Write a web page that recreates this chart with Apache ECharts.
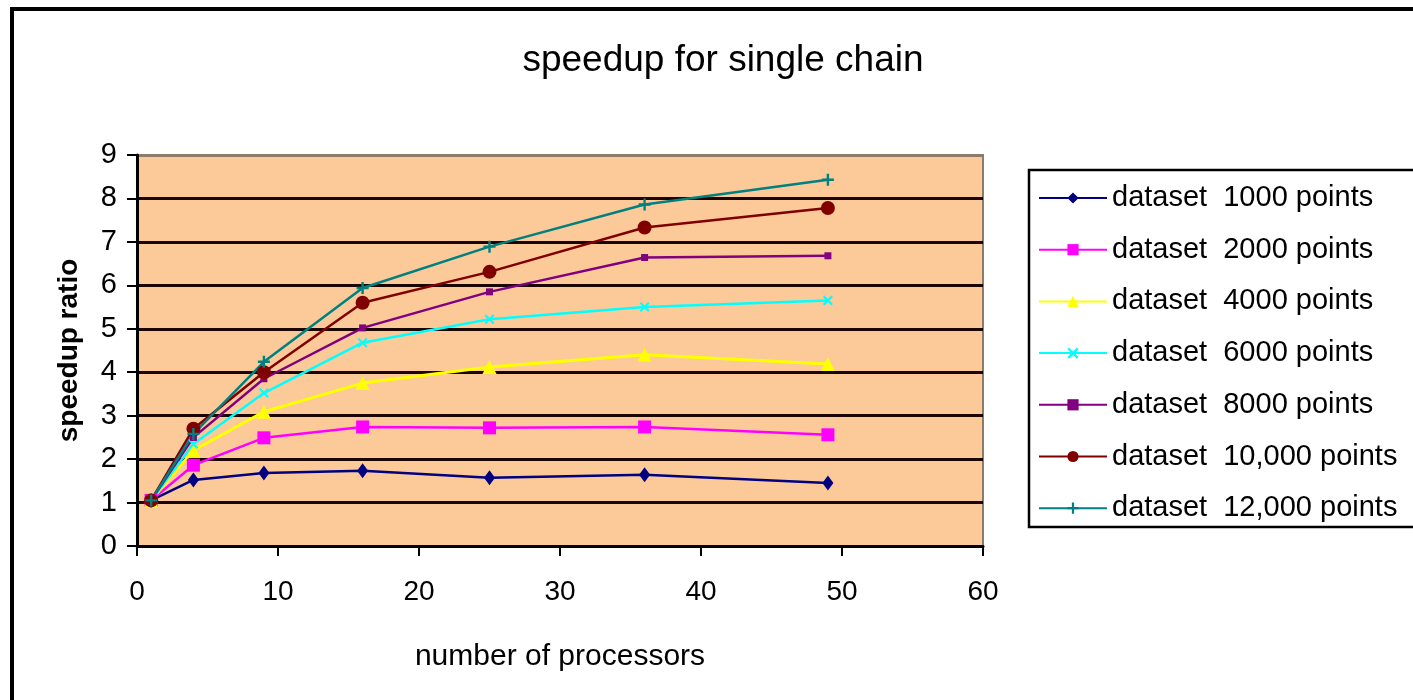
<!DOCTYPE html>
<html>
<head>
<meta charset="utf-8">
<script src="https://cdn.jsdelivr.net/npm/echarts@6/dist/echarts.min.js"></script>
<style>html,body{margin:0;padding:0;background:#fff;}#c{width:1413px;height:700px;}</style>
</head>
<body>
<div id="c"></div>
<script>
// ---- data ----
const processors = [1, 4, 9, 16, 25, 36, 49];
const seriesNames = [
  'dataset  1000 points',
  'dataset  2000 points',
  'dataset  4000 points',
  'dataset  6000 points',
  'dataset  8000 points',
  'dataset  10,000 points',
  'dataset  12,000 points'
];
const s1000  = [1.05, 1.52, 1.68, 1.73, 1.57, 1.64, 1.45];
const s2000  = [1.05, 1.86, 2.49, 2.74, 2.72, 2.74, 2.56];
const s4000  = [1.05, 2.20, 3.09, 3.75, 4.12, 4.40, 4.19];
const s6000  = [1.05, 2.35, 3.52, 4.68, 5.22, 5.50, 5.65];
const s8000  = [1.05, 2.50, 3.85, 5.02, 5.85, 6.64, 6.68];
const s10000 = [1.05, 2.70, 4.00, 5.60, 6.31, 7.33, 7.78];
const s12000 = [1.05, 2.58, 4.24, 5.94, 6.89, 7.86, 8.43];
const xTicks = [0, 10, 20, 30, 40, 50, 60];
const yTicks = [0, 1, 2, 3, 4, 5, 6, 7, 8, 9];

// ---- styles ----
const allValues = [s1000, s2000, s4000, s6000, s8000, s10000, s12000];
const colors = ['#000080', '#FF00FF', '#FFFF00', '#00FFFF', '#800080', '#800000', '#008080'];
const symbols = [
  'diamond',
  'rect',
  'triangle',
  'path://M0,1.5L1.5,0L10,8.5L8.5,10ZM8.5,0L10,1.5L1.5,10L0,8.5Z',
  'rect',
  'circle',
  'path://M4,0H6V10H4ZM0,4H10V6H0Z'
];
const symbolSizes = [[11, 15], 13, 14, 10, 7, 14, 12];

const font = 'Liberation Sans, Arial, sans-serif';

const series = allValues.map((vals, i) => ({
  name: seriesNames[i],
  type: 'line',
  data: processors.map((x, j) => [x, vals[j]]),
  symbol: symbols[i],
  symbolSize: symbolSizes[i],
  showAllSymbol: true,
  lineStyle: { color: colors[i], width: i === 2 ? 3 : 2.5 },
  itemStyle: { color: colors[i], borderColor: colors[i], borderWidth: 0 },
  emphasis: { disabled: true },
  animation: false,
  z: 3
}));

const splitColors = yTicks.map((t, i) => i === yTicks.length - 1 ? '#8c7c6c' : '#1a0500');

const chart = echarts.init(document.getElementById('c'));
chart.setOption({
  backgroundColor: '#ffffff',
  animation: false,
  title: {
    text: 'speedup for single chain',
    left: 718,
    top: 37,
    textAlign: 'center',
    textStyle: { fontFamily: font, fontSize: 37, fontWeight: 'normal', color: '#000' }
  },
  grid: {
    left: 137, right: 430, top: 155, bottom: 154,
    show: true,
    backgroundColor: '#FCCA98',
    borderColor: '#8c7c6c',
    borderWidth: 2
  },
  legend: {
    orient: 'vertical',
    left: 1038,
    top: 183,
    padding: 0,
    itemWidth: 68,
    itemHeight: 14,
    itemGap: 21.7,
    data: seriesNames,
    textStyle: { fontFamily: font, fontSize: 29, color: '#000', lineHeight: 30 }
  },
  xAxis: {
    type: 'value',
    min: 0, max: 60, interval: 10,
    name: 'number of processors',
    nameLocation: 'middle',
    nameGap: 96,
    nameTextStyle: { fontFamily: font, fontSize: 30, color: '#000' },
    axisLine: { show: true, onZero: false, lineStyle: { color: '#000', width: 3 } },
    axisTick: { show: true, inside: false, length: 10, lineStyle: { color: '#000', width: 2 } },
    axisLabel: { margin: 32, fontFamily: font, fontSize: 28, color: '#000',
      formatter: v => xTicks.includes(v) ? String(v) : '' },
    splitLine: { show: false }
  },
  yAxis: {
    type: 'value',
    min: 0, max: 9, interval: 1,
    name: 'speedup ratio',
    nameLocation: 'middle',
    nameGap: 54,
    nameRotate: 90,
    nameTextStyle: { fontFamily: font, fontSize: 28, fontWeight: 'bold', color: '#000' },
    axisLine: { show: true, onZero: false, lineStyle: { color: '#000', width: 3 } },
    axisTick: { show: true, inside: false, length: 10, lineStyle: { color: '#000', width: 2 } },
    axisLabel: { margin: 20, fontFamily: font, fontSize: 29, color: '#000',
      formatter: v => yTicks.includes(v) ? String(v) : '' },
    splitLine: { show: true, lineStyle: { color: splitColors, width: 3 } }
  },
  graphic: [
    {
      type: 'rect',
      shape: { x: 12, y: 9, width: 1420, height: 720 },
      style: { fill: 'none', stroke: '#000', lineWidth: 4 },
      silent: true, z: 0
    },
    {
      type: 'rect',
      shape: { x: 1029, y: 170, width: 400, height: 357 },
      style: { fill: 'none', stroke: '#000', lineWidth: 2.5 },
      silent: true, z: 0
    }
  ],
  series: series
});
</script>
</body>
</html>
